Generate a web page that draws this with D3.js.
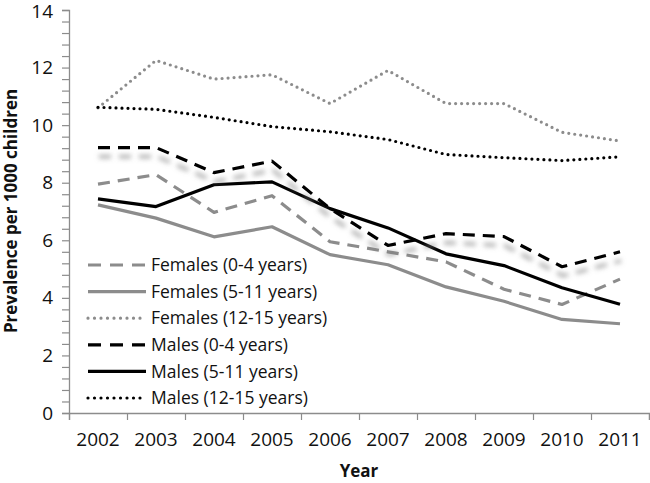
<!DOCTYPE html>
<html>
<head>
<meta charset="utf-8">
<script src="https://cdn.jsdelivr.net/npm/d3@7"></script>
<style>
  html, body { margin: 0; padding: 0; background: #fff; }
  svg { display: block; font-family: "Open Sans", "Noto Sans", sans-serif; }
</style>
</head>
<body>
<svg id="chart" width="650" height="483"></svg>
<script>
// ---- data ----
const years = ["2002","2003","2004","2005","2006","2007","2008","2009","2010","2011"];
const females0to4  = [7.95, 8.28, 6.97, 7.55, 5.95, 5.6, 5.25, 4.3, 3.77, 4.65];
const females5to11 = [7.23, 6.77, 6.12, 6.47, 5.5, 5.15, 4.38, 3.88, 3.25, 3.1];
const females12to15 = [10.6, 12.25, 11.6, 11.75, 10.75, 11.9, 10.75, 10.75, 9.75, 9.45];
const males0to4  = [9.22, 9.22, 8.35, 8.75, 7.1, 5.82, 6.23, 6.13, 5.08, 5.6];
const males5to11 = [7.44, 7.17, 7.93, 8.03, 7.1, 6.43, 5.53, 5.12, 4.35, 3.78];
const males12to15 = [10.62, 10.55, 10.27, 9.95, 9.77, 9.5, 8.98, 8.87, 8.77, 8.9];
const seriesNames = ["Females (0-4 years)", "Females (5-11 years)", "Females (12-15 years)",
                     "Males (0-4 years)", "Males (5-11 years)", "Males (12-15 years)"];
const yTickValues = [0, 2, 4, 6, 8, 10, 12, 14];

const seriesData = [females0to4, females5to11, females12to15, males0to4, males5to11, males12to15];
const styles = [
  { color: "#8c8c8c", dash: "12,8", cap: "butt" },
  { color: "#8c8c8c", dash: null, cap: "butt" },
  { color: "#8c8c8c", dash: "0,6", cap: "round" },
  { color: "#000000", dash: "12,8", cap: "butt", shadow: true },
  { color: "#000000", dash: null, cap: "butt" },
  { color: "#000000", dash: "0,6", cap: "round" }
];

const svg = d3.select("#chart");
const x0 = 69, x1 = 649, yTop = 10, yBot = 413;

const x = d3.scaleBand().domain(years).range([x0, x1]).padding(0);
const xb = d3.scaleLinear().domain([0, years.length]).range([x0, x1]);
const y = d3.scaleLinear().domain([0, 14]).range([yBot, yTop]);

// shadow filter
const defs = svg.append("defs");
const f = defs.append("filter").attr("id", "shadow")
  .attr("x", "-5%").attr("y", "-20%").attr("width", "110%").attr("height", "160%");
f.append("feGaussianBlur").attr("in", "SourceAlpha").attr("stdDeviation", 2.6).attr("result", "b");
f.append("feOffset").attr("in", "b").attr("dx", 1).attr("dy", 9).attr("result", "o");
f.append("feFlood").attr("flood-color", "#7a7a7a").attr("flood-opacity", 0.7).attr("result", "c");
f.append("feComposite").attr("in", "c").attr("in2", "o").attr("operator", "in").attr("result", "s");
const m = f.append("feMerge");
m.append("feMergeNode").attr("in", "s");
m.append("feMergeNode").attr("in", "SourceGraphic");

// y axis
const minorTicks = d3.range(0, 36).map(i => +(i * 0.4).toFixed(1));
const yAxis = d3.axisLeft(y).tickValues(minorTicks).tickSize(7).tickPadding(9)
  .tickFormat(d => yTickValues.includes(d) ? d3.format("d")(d) : "");
const gy = svg.append("g").attr("transform", `translate(${x0},0)`).call(yAxis);
gy.select(".domain").attr("stroke", "#8c8c8c").attr("stroke-width", 1.3);
gy.selectAll(".tick line").attr("stroke", "#8c8c8c").attr("stroke-width", 1.2);
gy.selectAll(".tick text").attr("font-size", 19).attr("fill", "#111")
  .attr("font-family", "'Open Sans', sans-serif")
  .attr("dy", d => d === 14 ? "0.42em" : "0.32em");

// x axis: boundary ticks
const xTickAxis = d3.axisBottom(xb).tickValues(d3.range(0, years.length + 1)).tickSize(7).tickFormat("");
const gx = svg.append("g").attr("transform", `translate(0,${yBot})`).call(xTickAxis);
gx.select(".domain").attr("stroke", "#8c8c8c").attr("stroke-width", 1.3);
gx.selectAll(".tick line").attr("stroke", "#8c8c8c").attr("stroke-width", 1.2);
const xLabAxis = d3.axisBottom(x).tickSize(0).tickPadding(20);
const gxl = svg.append("g").attr("transform", `translate(0,${yBot})`).call(xLabAxis);
gxl.select(".domain").remove();
gxl.selectAll(".tick text").attr("font-size", 19).attr("fill", "#111")
  .attr("font-family", "'Open Sans', sans-serif");

// axis titles
svg.append("text").attr("x", 359).attr("y", 477).attr("text-anchor", "middle")
  .attr("font-size", 17).attr("font-weight", "bold").attr("fill", "#111").text("Year");
svg.append("text").attr("transform", "translate(17,211) rotate(-90)").attr("text-anchor", "middle")
  .attr("font-size", 17).attr("font-weight", "bold").attr("fill", "#111")
  .text("Prevalence per 1000 children");

// lines
const line = d3.line().x((d, i) => x(years[i]) + x.bandwidth() / 2).y(d => y(d));
const order = [1, 0, 2, 5, 4, 3];
order.forEach(k => {
  const s = styles[k];
  const p = svg.append("path").datum(seriesData[k])
    .attr("d", line).attr("fill", "none")
    .attr("stroke", s.color).attr("stroke-width", 3.2)
    .attr("stroke-linejoin", "round").attr("stroke-linecap", s.cap);
  if (s.dash) p.attr("stroke-dasharray", s.dash);
  if (s.shadow) p.attr("filter", "url(#shadow)");
});

// legend
const lg = svg.append("g");
const rowY = d3.scaleLinear().domain([0, 5]).range([265, 398]);
seriesNames.forEach((name, k) => {
  const s = styles[k];
  const yy = rowY(k);
  const l = lg.append("line").attr("x1", 88).attr("x2", 146).attr("y1", yy).attr("y2", yy)
    .attr("stroke", s.color).attr("stroke-width", 3.2).attr("stroke-linecap", s.cap);
  if (s.dash) l.attr("stroke-dasharray", s.dash === "0,6" ? "0,6.5" : "13,9");
  lg.append("text").attr("x", 151).attr("y", yy).attr("dy", "0.35em")
    .attr("font-size", 17.5).attr("fill", "#111").text(name);
});
</script>
</body>
</html>
